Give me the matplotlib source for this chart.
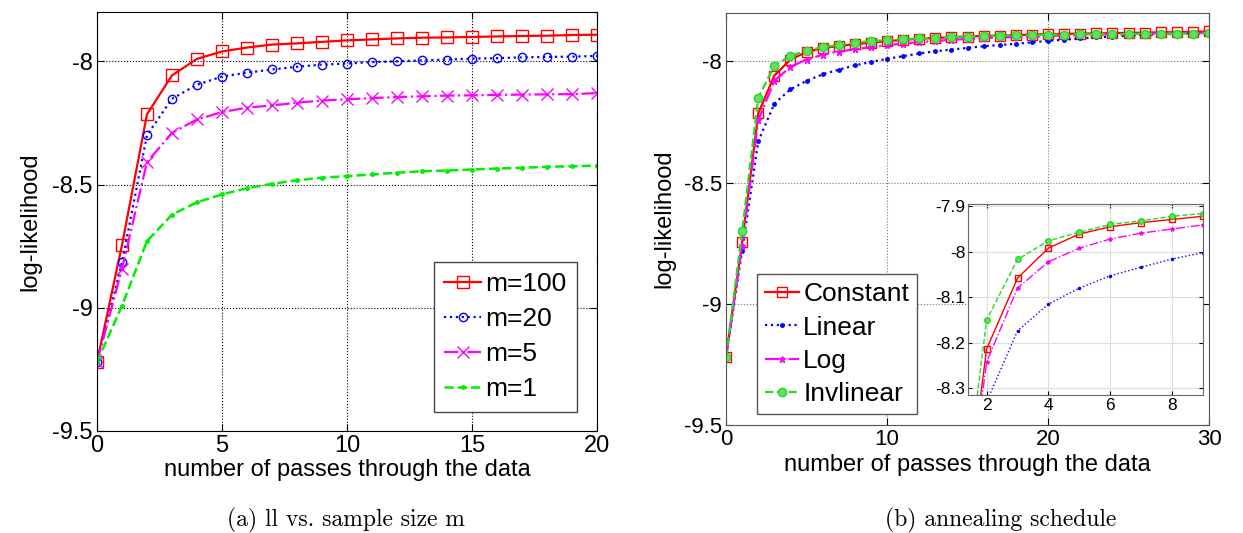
import numpy as np
import matplotlib.pyplot as plt

plt.rcParams['font.family'] = ['Liberation Sans', 'DejaVu Sans']
plt.rcParams['axes.unicode_minus'] = False

# (a) log-likelihood vs. passes for several sample sizes
passes_a = list(range(21))
m100 = [-9.221, -8.746, -8.215, -8.057, -7.990, -7.960, -7.944, -7.932, -7.927, -7.921, -7.915,
        -7.911, -7.907, -7.904, -7.903, -7.901, -7.899, -7.897, -7.896, -7.893, -7.892]
m20 = [-9.221, -8.816, -8.300, -8.152, -8.095, -8.062, -8.046, -8.033, -8.022, -8.013, -8.009,
       -8.003, -8.000, -7.996, -7.993, -7.989, -7.987, -7.984, -7.982, -7.981, -7.978]
m5 = [-9.221, -8.843, -8.409, -8.290, -8.236, -8.206, -8.188, -8.179, -8.168, -8.159, -8.154,
      -8.149, -8.145, -8.142, -8.139, -8.138, -8.136, -8.135, -8.134, -8.133, -8.129]
m1 = [-9.221, -8.992, -8.730, -8.622, -8.572, -8.540, -8.515, -8.497, -8.483, -8.472, -8.466,
      -8.459, -8.452, -8.446, -8.443, -8.439, -8.435, -8.432, -8.428, -8.426, -8.423]

# (b) annealing schedules
passes_b = list(range(31))
constant = [-9.22, -8.745, -8.214, -8.058, -7.992, -7.961, -7.945, -7.936, -7.929, -7.922, -7.916,
            -7.911, -7.906, -7.903, -7.900, -7.897, -7.895, -7.893, -7.891, -7.889, -7.887,
            -7.886, -7.885, -7.884, -7.883, -7.882, -7.881, -7.880, -7.879, -7.878, -7.876]
linear = [-9.22, -8.78, -8.33, -8.174, -8.115, -8.080, -8.053, -8.034, -8.016, -8.002, -7.989,
          -7.978, -7.967, -7.958, -7.951, -7.944, -7.937, -7.932, -7.927, -7.921, -7.915,
          -7.910, -7.905, -7.901, -7.897, -7.893, -7.890, -7.888, -7.886, -7.885, -7.884]
log_sched = [-9.22, -8.76, -8.243, -8.080, -8.022, -7.992, -7.972, -7.959, -7.950, -7.941, -7.933,
             -7.926, -7.920, -7.915, -7.911, -7.907, -7.904, -7.901, -7.899, -7.897, -7.895,
             -7.893, -7.891, -7.889, -7.888, -7.886, -7.885, -7.884, -7.883, -7.882, -7.881]
invlinear = [-9.22, -8.70, -8.150, -8.017, -7.976, -7.957, -7.940, -7.932, -7.922, -7.916, -7.912,
             -7.908, -7.905, -7.902, -7.899, -7.897, -7.895, -7.893, -7.892, -7.891, -7.890,
             -7.889, -7.888, -7.888, -7.887, -7.887, -7.886, -7.886, -7.885, -7.885, -7.884]

fig = plt.figure(figsize=(12.43, 5.33), dpi=100)


def matlab_axes(ax, fs, edge='black'):
    ax.tick_params(direction='in', top=True, right=True, labelsize=fs, pad=3, length=5)
    ax.grid(True, linestyle=':', color='black', linewidth=0.8)
    for s in ax.spines.values():
        s.set_color(edge)


# ---- left panel ----
ax1 = fig.add_axes([0.078, 0.1914, 0.4023, 0.786])
ax1.plot(passes_a, m100, '-', color='red', marker='s', mfc='none', ms=8, lw=1.6, label='m=100')
ax1.plot(passes_a, m20, ':', color='blue', marker='o', mfc='none', ms=6, lw=1.6, label='m=20')
ax1.plot(passes_a, m5, '-.', color='magenta', marker='x', ms=8, lw=1.6, label='m=5')
ax1.plot(passes_a, m1, '--', color='#00ee00', marker='.', ms=5, lw=1.8, label='m=1')
ax1.set_xlim(0, 20)
ax1.set_ylim(-9.5, -7.8)
ax1.set_xticks([0, 5, 10, 15, 20])
ax1.set_yticks([-9.5, -9, -8.5, -8])
ax1.set_yticklabels(['-9.5', '-9', '-8.5', '-8'])
matlab_axes(ax1, 17)
ax1.set_xlabel('number of passes through the data', fontsize=17, labelpad=1)
ax1.set_ylabel('log-likelihood', fontsize=17, labelpad=8)
ax1.legend(loc='lower right', bbox_to_anchor=(0.4642, 0.227), bbox_transform=fig.transFigure,
           fontsize=19, fancybox=False, edgecolor='#444444', framealpha=1, borderaxespad=0,
           handlelength=1.4, handletextpad=0.15, labelspacing=0.42, borderpad=0.4)

# ---- right panel ----
ax2 = fig.add_axes([0.5841, 0.2026, 0.3886, 0.773])
styles = [
    (constant, '-', 'red', 's', 'none', 7, 'Constant'),
    (linear, ':', 'blue', '.', 'blue', 5, 'Linear'),
    (log_sched, '-.', 'magenta', '*', 'magenta', 5, 'Log'),
    (invlinear, '--', '#22dd22', 'o', '#66dd66', 6, 'Invlinear'),
]
for ys, ls, c, mk, mf, ms, lab in styles:
    ax2.plot(passes_b, ys, linestyle=ls, color=c, marker=mk, mfc=mf, ms=ms, lw=1.6, label=lab)
ax2.set_xlim(0, 30)
ax2.set_ylim(-9.5, -7.8)
ax2.set_xticks([0, 10, 20, 30])
ax2.set_yticks([-9.5, -9, -8.5, -8])
ax2.set_yticklabels(['-9.5', '-9', '-8.5', '-8'])
matlab_axes(ax2, 16, edge='#555555')
ax2.grid(True, linestyle=':', color='#777777', linewidth=0.8)
ax2.set_xlabel('number of passes through the data', fontsize=17, labelpad=3)
ax2.set_ylabel('log-likelihood', fontsize=17, labelpad=6)
ax2.legend(loc='lower left', bbox_to_anchor=(0.609, 0.2233), bbox_transform=fig.transFigure,
           fontsize=19, fancybox=False, edgecolor='#555555', framealpha=1, borderaxespad=0,
           handlelength=1.3, handletextpad=0.15, labelspacing=0.35, borderpad=0.3)

# inset zoom on passes 2..9
ins = fig.add_axes([0.7788, 0.2589, 0.189, 0.3584])
for ys, ls, c, mk, mf, ms, lab in styles:
    ins.plot(passes_b, ys, linestyle=ls, color=c, marker=mk, mfc=mf, ms=ms - 2, lw=1.0)
ins.set_xlim(1.4, 9)
ins.set_ylim(-8.315, -7.895)
ins.set_xticks([2, 4, 6, 8])
ins.set_yticks([-8.3, -8.2, -8.1, -8, -7.9])
ins.set_yticklabels(['-8.3', '-8.2', '-8.1', '-8', '-7.9'])
ins.tick_params(direction='in', top=True, right=True, labelsize=12.5, pad=2, length=3)
ins.grid(True, linestyle='-', color='#dddddd', linewidth=0.8)
for s in ins.spines.values():
    s.set_color('#666666')

# captions
fig.text(0.278, 0.012, '(a) ll vs. sample size m', fontsize=17, family='cmr10', ha='center')
fig.text(0.805, 0.012, '(b) annealing schedule', fontsize=17, family='cmr10', ha='center')

fig.savefig('out.png', dpi=100)
